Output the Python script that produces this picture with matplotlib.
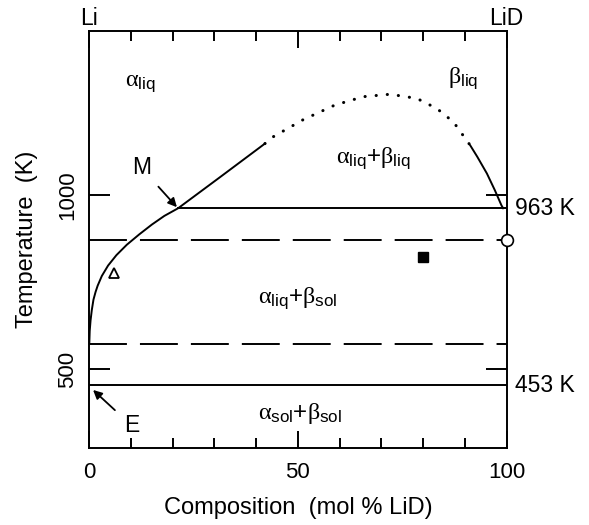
import matplotlib
matplotlib.use("Agg")
import matplotlib.pyplot as plt
import numpy as np

plt.rcParams['font.family'] = ['Liberation Sans', 'DejaVu Sans']
plt.rcParams['mathtext.fontset'] = 'custom'
plt.rcParams['mathtext.rm'] = 'Liberation Sans'
plt.rcParams['mathtext.it'] = 'Liberation Serif'
plt.rcParams['mathtext.bf'] = 'Liberation Sans:bold'

# Data (mol % LiD, Temperature K)
liq_solid_x = [0.0, 0.1, 0.3, 0.6, 1.0, 1.5, 2.0, 3.0, 4.5, 6.5, 9.0, 12.0, 15.0, 18.0, 21.3, 31.4, 42.1]
liq_solid_T = [573, 610, 640, 670, 700, 722, 740, 768, 798, 828, 858, 888, 916, 941, 963, 1053, 1149]
liq_dot_x = [42.1, 43.7, 51.3, 58.9, 65.7, 72.1, 78.5, 83.3, 87.3, 91.3]
liq_dot_T = [1149, 1166, 1218, 1260, 1284, 1291, 1279, 1250, 1211, 1144]
right_x = [91.3, 93.0, 95.3, 97.2, 98.8, 99.2]
right_T = [1144, 1111, 1063, 1015, 971, 963]
monotectic_T = 963
monotectic_x0 = 21.3
eutectic_T = 453
dashed_T = [873, 573]
triangle = (5.9, 776)
square = (80.0, 824)
circle = (100.0, 873)

fig = plt.figure(figsize=(5.89, 5.25), dpi=100)
ax = fig.add_axes([89.3/589, 1-448/525, (506.5-89.3)/589, (448-31)/525])
ax.set_xlim(0, 100)
ax.set_ylim(273, 1473)

lw = 1.4
ax.plot(liq_solid_x, liq_solid_T, color='k', lw=lw, solid_joinstyle='round')
ax.plot(liq_dot_x, liq_dot_T, color='k', lw=2.2, linestyle=(0, (0.05, 3.6)),
        dash_capstyle='round')
ax.plot(right_x, right_T, color='k', lw=lw, solid_joinstyle='round')
ax.plot([monotectic_x0, 100], [monotectic_T]*2, color='k', lw=lw)
ax.plot([0, 100], [eutectic_T]*2, color='k', lw=lw)
for t in dashed_T:
    ax.plot([0, 100], [t, t], color='k', lw=lw, dashes=(19.5, 6.7))
ax.plot(*triangle, marker='^', ms=7, mfc='white', mec='k', mew=1.3)
ax.plot(*square, marker='s', ms=6.5, color='k')
ax.plot(*circle, marker='o', ms=8.5, mfc='white', mec='k', mew=1.2, clip_on=False, zorder=5)

for s in ax.spines.values():
    s.set_linewidth(1.4)

ax.set_xticks([0, 50, 100])
ax.set_xticks(np.arange(0, 101, 10), minor=True)
ax.set_yticks([500, 1000])
ax.set_yticklabels(['500', '1000'], rotation=90, va='center')
ax.tick_params(which='both', direction='in', top=True, right=True, labelsize=16, width=1.4)
ax.tick_params(which='minor', length=7)
ax.tick_params(axis='x', which='major', length=12, pad=10)
ax.tick_params(axis='y', which='major', length=15, pad=8)

ax.set_xlabel('Composition  (mol % LiD)', fontsize=17, labelpad=10)
ax.set_ylabel('Temperature  (K)', fontsize=17, labelpad=14)

ax.text(0, 1.015, 'Li', transform=ax.transAxes, fontsize=16.5, ha='center', va='baseline')
ax.text(1, 1.015, 'LiD', transform=ax.transAxes, fontsize=16.5, ha='center', va='baseline')
ax.text(102, monotectic_T, '963 K', fontsize=16.5, va='center', ha='left', clip_on=False)
ax.text(102, eutectic_T, '453 K', fontsize=16.5, va='center', ha='left', clip_on=False)

fs = 17.5
ax.text(8.6, 1317, r'$\alpha_{\mathrm{liq}}$', fontsize=fs, ha='left', va='baseline')
ax.text(86.0, 1323, r'$\beta_{\mathrm{liq}}$', fontsize=fs, ha='left', va='baseline')
ax.text(59.1, 1095, r'$\alpha_{\mathrm{liq}}\mathrm{+}\beta_{\mathrm{liq}}$', fontsize=fs, ha='left', va='baseline')
ax.text(40.4, 691, r'$\alpha_{\mathrm{liq}}\mathrm{+}\beta_{\mathrm{sol}}$', fontsize=fs, ha='left', va='baseline')
ax.text(40.4, 357, r'$\alpha_{\mathrm{sol}}\mathrm{+}\beta_{\mathrm{sol}}$', fontsize=fs, ha='left', va='baseline')

ax.annotate('M', xy=(monotectic_x0 - 0.3, monotectic_T + 3), xytext=(12.5, 1079), fontsize=16.5,
            ha='center', va='center',
            arrowprops=dict(arrowstyle='-|>', color='k', lw=1.3, shrinkA=5, shrinkB=0,
                            mutation_scale=13))
ax.annotate('E', xy=(0.9, 440), xytext=(10.1, 338), fontsize=16.5,
            ha='center', va='center',
            arrowprops=dict(arrowstyle='-|>', color='k', lw=1.3, shrinkA=6, shrinkB=0,
                            mutation_scale=13))

fig.savefig('out.png', dpi=100)
